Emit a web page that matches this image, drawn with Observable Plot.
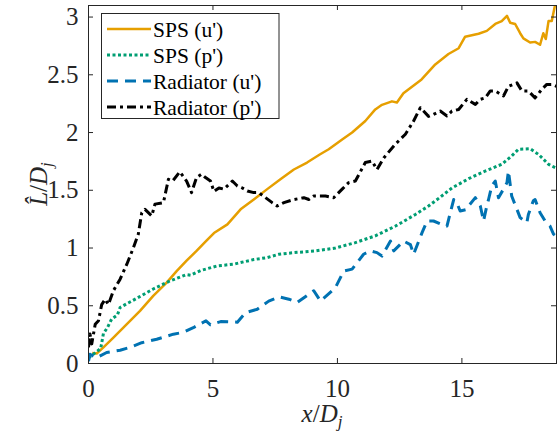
<!DOCTYPE html>
<html>
<head>
<meta charset="utf-8">
<script src="https://cdn.jsdelivr.net/npm/d3@7"></script>
<script src="https://cdn.jsdelivr.net/npm/@observablehq/plot@0.6"></script>
<style>
  html, body { margin: 0; padding: 0; background: #fff; }
</style>
</head>
<body>
<div id="chart"></div>
<script>
// ---- data (x/Dj, L/Dj) ----
const spsU = [[0.15,0.09],[0.33,0.087],[0.6,0.14],[1.0,0.225],[1.54,0.34],[2.07,0.456],[2.6,0.585],[3.14,0.70],[3.54,0.80],[3.94,0.89],[4.34,0.975],[4.72,1.06],[5.04,1.13],[5.58,1.205],[6.11,1.335],[6.64,1.42],[7.18,1.51],[7.71,1.595],[8.25,1.68],[8.78,1.74],[9.29,1.81],[9.65,1.855],[10.19,1.94],[10.59,2.00],[11.12,2.10],[11.52,2.20],[11.79,2.24],[12.19,2.27],[12.39,2.26],[12.65,2.34],[13.38,2.46],[13.93,2.59],[14.46,2.68],[14.87,2.73],[15.13,2.83],[15.67,2.855],[16.0,2.88],[16.34,2.94],[16.6,2.965],[16.81,3.01],[16.94,2.95],[17.14,2.94],[17.34,2.86],[17.47,2.815],[17.74,2.78],[17.94,2.785],[18.14,2.76],[18.27,2.86],[18.37,2.81],[18.48,2.965],[18.61,2.965],[18.72,3.08],[18.8,3.16]];
const spsP = [[0.0,0.05],[0.25,0.09],[0.49,0.13],[0.6,0.26],[0.76,0.31],[0.93,0.385],[1.16,0.42],[1.27,0.485],[1.56,0.52],[1.94,0.565],[2.6,0.645],[3.27,0.715],[3.94,0.77],[4.1,0.765],[4.5,0.805],[5.17,0.845],[5.84,0.86],[6.11,0.874],[6.64,0.90],[7.18,0.917],[7.65,0.946],[8.25,0.96],[9.12,0.975],[9.92,1.00],[10.72,1.047],[11.52,1.105],[12.33,1.19],[13.13,1.29],[13.66,1.364],[14.13,1.44],[14.6,1.52],[15.27,1.60],[15.94,1.667],[16.6,1.725],[17.0,1.797],[17.27,1.855],[17.74,1.86],[18.08,1.81],[18.48,1.725],[18.8,1.69]];
const radiatorU = [[0.0,0.02],[0.06,0.08],[0.33,0.05],[0.73,0.095],[1.27,0.115],[1.67,0.14],[2.14,0.18],[2.74,0.21],[3.41,0.254],[3.81,0.27],[4.21,0.31],[4.72,0.37],[4.9,0.335],[5.31,0.363],[5.98,0.358],[6.31,0.44],[6.78,0.47],[7.24,0.54],[7.65,0.577],[8.05,0.557],[8.38,0.528],[8.85,0.60],[9.05,0.63],[9.32,0.54],[9.92,0.657],[10.25,0.80],[10.59,0.817],[11.05,0.946],[11.32,0.975],[11.59,0.96],[11.79,0.93],[12.13,1.06],[12.26,0.975],[12.66,1.06],[12.93,1.03],[13.06,0.946],[13.4,1.133],[13.6,1.234],[13.86,1.234],[14.13,1.21],[14.4,1.19],[14.47,1.25],[14.67,1.42],[14.8,1.39],[14.93,1.32],[15.2,1.335],[15.27,1.364],[15.54,1.436],[15.74,1.364],[15.87,1.234],[16.0,1.364],[16.07,1.42],[16.2,1.537],[16.34,1.58],[16.47,1.436],[16.67,1.51],[16.81,1.566],[16.87,1.667],[17.0,1.45],[17.21,1.335],[17.34,1.263],[17.61,1.22],[17.67,1.29],[17.87,1.41],[17.94,1.42],[18.14,1.306],[18.34,1.234],[18.54,1.19],[18.68,1.12],[18.8,1.1]];
const radiatorP = [[0,0.14],[0.06,0.255],[0.13,0.17],[0.27,0.34],[0.4,0.37],[0.53,0.51],[0.67,0.557],[0.8,0.51],[1.0,0.63],[1.27,0.73],[1.54,0.86],[1.8,1.0],[2.0,1.12],[2.14,1.306],[2.27,1.335],[2.54,1.278],[2.67,1.38],[3.01,1.393],[3.21,1.595],[3.38,1.58],[3.67,1.66],[3.94,1.58],[4.14,1.48],[4.34,1.61],[4.54,1.64],[4.7,1.61],[4.9,1.58],[5.04,1.49],[5.24,1.52],[5.44,1.51],[5.78,1.58],[5.98,1.537],[6.18,1.52],[6.38,1.494],[6.64,1.48],[6.84,1.48],[7.11,1.436],[7.38,1.393],[7.58,1.364],[7.85,1.393],[8.25,1.42],[8.65,1.436],[8.85,1.42],[9.05,1.45],[9.29,1.45],[9.52,1.45],[9.85,1.436],[10.19,1.51],[10.45,1.566],[10.72,1.58],[11.12,1.74],[11.39,1.753],[11.59,1.68],[11.86,1.78],[12.33,1.90],[12.73,1.985],[13.06,2.10],[13.33,2.215],[13.66,2.14],[13.86,2.157],[14.13,2.186],[14.4,2.143],[14.6,2.186],[14.87,2.20],[15.2,2.287],[15.54,2.244],[15.74,2.287],[15.94,2.30],[16.14,2.36],[16.34,2.36],[16.67,2.316],[16.87,2.40],[17.21,2.43],[17.41,2.36],[17.67,2.36],[17.94,2.30],[18.21,2.374],[18.41,2.417],[18.61,2.417],[18.8,2.40]];

const seriesNames = ["SPS (u')", "SPS (p')", "Radiator (u')", "Radiator (p')"];
const xTicks = [0, 5, 10, 15];
const yTicks = [0, 0.5, 1, 1.5, 2, 2.5, 3];

// ---- styles ----
const W = 557, H = 434, mL = 88, mR = 1, mT = 5, mB = 71;
const innerW = W - mL - mR, innerH = H - mT - mB, tickLen = 5;
const axisColor = "#262626";
const styles = [
  {stroke: "#E69F00", strokeWidth: 2.5, strokeDasharray: null},
  {stroke: "#009E73", strokeWidth: 3, strokeDasharray: "3,2.5"},
  {stroke: "#0072B2", strokeWidth: 3, strokeDasharray: "11,7"},
  {stroke: "#000000", strokeWidth: 3, strokeDasharray: "9,4,3,4"}
];
const allSeries = [spsU, spsP, radiatorU, radiatorP];

const lineMarks = allSeries.map((s, i) => Plot.line(s, {
  x: d => d[0], y: d => d[1],
  stroke: styles[i].stroke, strokeWidth: styles[i].strokeWidth,
  strokeDasharray: styles[i].strokeDasharray || undefined,
  strokeLinejoin: "round", strokeLinecap: "butt", clip: true
}));

const chart = Plot.plot({
  width: W, height: H,
  marginLeft: mL, marginRight: mR, marginTop: mT, marginBottom: mB,
  x: {domain: [0, 18.8]},
  y: {domain: [0, 3.1]},
  style: {fontFamily: "'Liberation Serif', 'Times New Roman', serif", fontSize: "25px", color: axisColor, background: "#fff"},
  marks: [
    ...lineMarks,
    Plot.frame({stroke: axisColor, strokeWidth: 1}),
    Plot.tickX(xTicks, {x: d => d, insetTop: innerH - tickLen, stroke: axisColor}),
    Plot.tickX(xTicks, {x: d => d, insetBottom: innerH - tickLen, stroke: axisColor}),
    Plot.tickY(yTicks, {y: d => d, insetRight: innerW - tickLen, stroke: axisColor}),
    Plot.tickY(yTicks, {y: d => d, insetLeft: innerW - tickLen, stroke: axisColor}),
    Plot.axisX({ticks: xTicks, tickSize: 0, tickPadding: 16, label: null, fontSize: 25, tickFormat: d => String(d)}),
    Plot.axisY({ticks: yTicks, tickSize: 0, tickPadding: 10, label: null, fontSize: 25, tickFormat: d => String(d)})
  ]
});

document.getElementById("chart").appendChild(chart);

// ---- axis labels & legend ----
const svg = d3.select(chart);
const serif = "'Liberation Serif', 'Times New Roman', serif";

const xl = svg.append("text")
  .attr("x", mL + innerW / 2).attr("y", 422)
  .attr("text-anchor", "middle").attr("font-family", serif).attr("font-size", 25).attr("fill", axisColor);
xl.append("tspan").attr("font-style", "italic").text("x");
xl.append("tspan").text("/");
xl.append("tspan").attr("font-style", "italic").text("D");
xl.append("tspan").attr("font-style", "italic").attr("font-size", 17).attr("dy", 5).text("j");

const yl = svg.append("text")
  .attr("transform", `translate(47,${mT + innerH / 2}) rotate(-90)`)
  .attr("text-anchor", "middle").attr("font-family", serif).attr("font-size", 25).attr("fill", axisColor);
yl.append("tspan").attr("font-style", "italic").text("L\u0302");
yl.append("tspan").text("/");
yl.append("tspan").attr("font-style", "italic").text("D");
yl.append("tspan").attr("font-style", "italic").attr("font-size", 17).attr("dy", 5).text("j");

const lg = svg.append("g");
lg.append("rect").attr("x", 101.5).attr("y", 13.5).attr("width", 177.5).attr("height", 105)
  .attr("fill", "#fff").attr("stroke", axisColor).attr("stroke-width", 1);
seriesNames.forEach((name, i) => {
  const y = 29 + i * 26;
  const ln = lg.append("line").attr("x1", 107).attr("x2", 151).attr("y1", y).attr("y2", y)
    .attr("stroke", styles[i].stroke).attr("stroke-width", styles[i].strokeWidth);
  if (styles[i].strokeDasharray) ln.attr("stroke-dasharray", styles[i].strokeDasharray);
  lg.append("text").attr("x", 153).attr("y", y + 7.5).attr("text-anchor", "start")
    .attr("font-family", serif).attr("font-size", 21.5).attr("fill", "#000").text(name);
});
</script>
</body>
</html>
